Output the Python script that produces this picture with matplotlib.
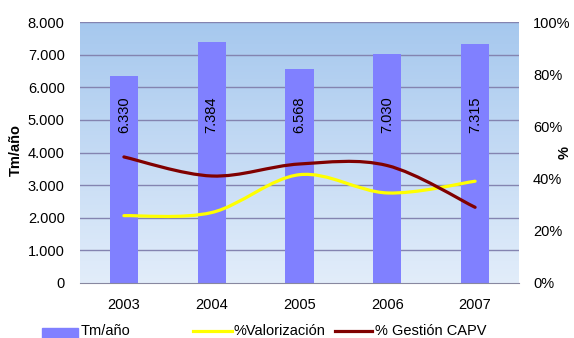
import numpy as np
import matplotlib
matplotlib.use("Agg")
import matplotlib.pyplot as plt
from matplotlib.path import Path
from matplotlib.patches import PathPatch, Rectangle
from matplotlib.lines import Line2D
from matplotlib.ticker import FuncFormatter

plt.rcParams['font.family'] = ['Liberation Sans', 'DejaVu Sans']

years = ["2003", "2004", "2005", "2006", "2007"]
toneladas = [6330, 7384, 6568, 7030, 7315]
valorizacion = [0.258, 0.27, 0.415, 0.345, 0.39]
gestion_capv = [0.483, 0.41, 0.456, 0.45, 0.29]
bar_labels = ["6.330", "7.384", "6.568", "7.030", "7.315"]

FS = 10.5


def smooth_path(xs, ys):
    # Bezier curve through the points, like Excel's smoothed lines
    pts = np.column_stack([xs, ys]).astype(float)
    n = len(pts)
    verts = [pts[0]]
    codes = [Path.MOVETO]
    for i in range(n - 1):
        p0 = pts[i - 1] if i > 0 else pts[i]
        p1 = pts[i]
        p2 = pts[i + 1]
        p3 = pts[i + 2] if i + 2 < n else pts[i + 1]
        c1 = p1 + (p2 - p0) / 6.0
        c2 = p2 - (p3 - p1) / 6.0
        verts += [c1, c2, p2]
        codes += [Path.CURVE4] * 3
    return Path(verts, codes)


fig = plt.figure(figsize=(5.74, 3.38), dpi=100)
ax = fig.add_axes([80 / 574, 1 - 283 / 338, 439 / 574, 261 / 338])
x = np.arange(len(years))

# background gradient
grad = np.linspace(0, 1, 256).reshape(-1, 1)
top = np.array([166, 200, 238]) / 255
bottom = np.array([226, 237, 250]) / 255
img = bottom + (top - bottom) * grad
ax.imshow(img[:, None, :].repeat(2, axis=1), extent=[0, 1, 0, 1], transform=ax.transAxes,
          aspect='auto', origin='lower', zorder=0)

ax.set_xlim(-0.5, 4.5)
ax.set_ylim(0, 8000)
ax.set_yticks(range(0, 8001, 1000))
ax.yaxis.set_major_formatter(FuncFormatter(lambda v, p: f"{int(v):,}".replace(",", ".")))
for v in range(1000, 8001, 1000):
    ax.axhline(v, color="#8484B0", lw=1, zorder=1)

ax.bar(x, toneladas, width=0.32, color="#8080FF", zorder=2)
for xi, lab in zip(x, bar_labels):
    ax.text(xi, 5150, lab, rotation=90, ha='center', va='center', fontsize=FS, zorder=3)

ax.set_xticks(x)
ax.set_xticklabels(years)
ax.tick_params(length=0, labelsize=FS)
ax.tick_params(axis='x', pad=11)
ax.tick_params(axis='y', pad=11)
for s in ["top", "right", "left"]:
    ax.spines[s].set_visible(False)
ax.spines["bottom"].set_color("#8888A0")

ax2 = ax.twinx()
ax2.set_ylim(0, 1)
ax2.set_yticks(np.arange(0, 1.01, 0.2))
ax2.yaxis.set_major_formatter(FuncFormatter(lambda v, p: f"{v * 100:.0f}%"))
ax2.tick_params(length=0, labelsize=FS, pad=10)
for s in ax2.spines.values():
    s.set_visible(False)

ax2.add_patch(PathPatch(smooth_path(x, valorizacion), fill=False, edgecolor="#FFFF00",
                        lw=2.3, capstyle='round', zorder=4))
ax2.add_patch(PathPatch(smooth_path(x, gestion_capv), fill=False, edgecolor="#800000",
                        lw=2.3, capstyle='round', zorder=5))

# axis titles
fig.text(16 / 574, 1 - 150 / 338, "Tm/año", fontsize=FS, fontweight='bold',
         rotation=90, ha='center', va='center')
fig.text(565 / 574, 1 - 152 / 338, "%", fontsize=FS, fontweight='bold',
         rotation=90, ha='center', va='center')

# legend along the bottom
ly = 1 - 331 / 338
fig.patches.append(Rectangle((42 / 574, 0), 36 / 574, 10 / 338,
                             transform=fig.transFigure, color="#8080FF"))
fig.text(81 / 574, ly, "Tm/año", fontsize=FS, va='center')
fig.lines.append(Line2D([193 / 574, 232 / 574], [ly, ly], transform=fig.transFigure,
                        color="#FFFF00", lw=2.3))
fig.text(234 / 574, ly, "%Valorización", fontsize=FS, va='center')
fig.lines.append(Line2D([335 / 574, 372 / 574], [ly, ly], transform=fig.transFigure,
                        color="#800000", lw=2.3))
fig.text(375 / 574, ly, "% Gestión CAPV", fontsize=FS, va='center')

fig.savefig("out.png", dpi=100)
